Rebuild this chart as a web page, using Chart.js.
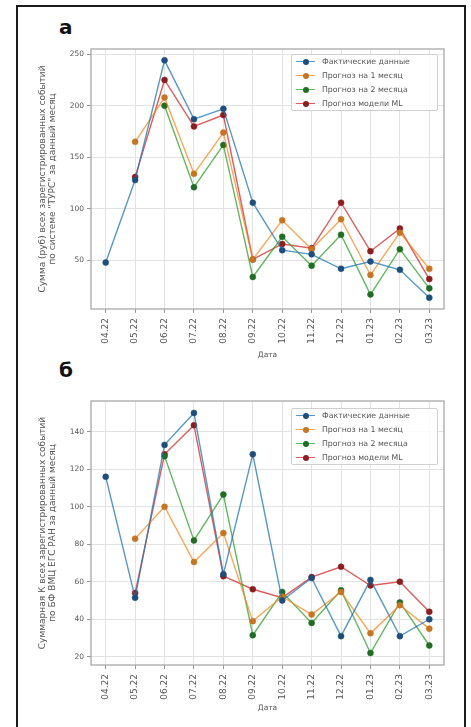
<!DOCTYPE html>
<html>
<head>
<meta charset="utf-8">
<script src="https://cdn.jsdelivr.net/npm/chart.js@4"></script>
<style>
  body { margin: 0; background: #fff; font-family: "DejaVu Sans", sans-serif; }
  #wrap { position: relative; width: 471px; height: 727px; overflow: hidden; background: #fff; }
  #frame { position: absolute; left: 16px; top: 5px; width: 446px; height: 740px; border: 2px solid #1a1a1a; }
  canvas { position: absolute; left: 0; }
  .letter { position: absolute; left: 59px; font: bold 20px "DejaVu Sans", sans-serif; color: #111; }
  .legend { position: absolute; left: 291px; width: 147px; height: 57px; border: 1px solid #d0d0d0;
            border-radius: 2px; background: rgba(255,255,255,0.85); box-sizing: border-box; }
  .row { position: absolute; left: 0; height: 14px; font-size: 7.8px; color: #555; line-height: 14px; white-space: nowrap; }
  .sym { position: absolute; left: 4px; top: 6px; width: 19px; height: 1.5px; }
  .dot { position: absolute; left: 10.5px; top: 4px; width: 6px; height: 6px; border-radius: 50%; }
  .txt { position: absolute; left: 30px; }
</style>
</head>
<body>
<div id="wrap">
  <div id="frame"></div>
  <div class="letter" style="top:15px">а</div>
  <div class="letter" style="top:358px">б</div>
  <canvas id="chartA" width="471" height="362" style="top:0"></canvas>
  <canvas id="chartB" width="471" height="367" style="top:360px"></canvas>
  <div class="legend" id="legA" style="top:54px"></div>
  <div class="legend" id="legB" style="top:408px"></div>
</div>
<script>
const meses = ['04.22', '05.22', '06.22', '07.22', '08.22', '09.22', '10.22', '11.22', '12.22', '01.23', '02.23', '03.23'];
const nombres = ['Фактические данные', 'Прогноз на 1 месяц', 'Прогноз на 2 месяца', 'Прогноз модели ML'];

// panel а
const realA  = [48, 128, 244, 187, 197, 106, 60, 56, 42, 49, 41, 14];
const prog1A = [null, 165, 208, 134, 174, 51, 89, 61, 90, 36, 77, 42];
const prog2A = [null, null, 200, 121, 162, 34, 73, 45, 75, 17, 61, 23];
const mlA    = [null, 131, 225, 180, 191, 51, 66, 62, 106, 59, 81, 32];
const ticksA = [50, 100, 150, 200, 250];

// panel б
const realB  = [116, 51.5, 133, 150, 64, 128, 50, 62, 31, 61, 31, 40];
const prog1B = [null, 83, 100, 70.5, 86, 39, 52, 42.5, 54.5, 32.5, 47.5, 35];
const prog2B = [null, null, 127, 82, 106.5, 31.5, 54.5, 38, 55.5, 22, 49, 26];
const mlB    = [null, 54, 128, 143.5, 63, 56, 51.5, 62.5, 68, 58, 60, 44];
const ticksB = [20, 40, 60, 80, 100, 120, 140];

const lineas  = ['rgba(31,119,180,0.75)', 'rgba(255,127,14,0.7)', 'rgba(44,160,44,0.75)', 'rgba(214,39,40,0.75)'];
const puntos  = ['#1c4f7e', '#c9741f', '#1f6e22', '#8f1d1f'];

// marco gris alrededor del area del grafico
const marco = {
  id: 'marco',
  afterDraw(chart) {
    const a = chart.chartArea, ctx = chart.ctx;
    ctx.save();
    ctx.strokeStyle = '#a8a8a8';
    ctx.lineWidth = 1.3;
    ctx.strokeRect(a.left, a.top, a.right - a.left, a.bottom - a.top);
    ctx.restore();
  }
};

function crearGrafico(id, series, ticks, yMin, yMax, tituloY, pad, altoX) {
  new Chart(document.getElementById(id), {
    type: 'line',
    data: {
      labels: meses,
      datasets: series.map((s, i) => ({
        label: nombres[i],
        data: s,
        borderColor: lineas[i],
        backgroundColor: puntos[i],
        pointBackgroundColor: puntos[i],
        pointBorderColor: puntos[i],
        borderWidth: 1.4,
        pointBorderWidth: 0.5,
        pointRadius: 3,
        tension: 0,
        spanGaps: false
      }))
    },
    options: {
      responsive: false,
      animation: false,
      devicePixelRatio: 1,
      layout: { padding: pad },
      plugins: { legend: { display: false }, tooltip: { enabled: false } },
      scales: {
        x: {
          offset: true,
          grid: { color: '#e2e2e2', lineWidth: 1, tickLength: 4, tickColor: '#999' },
          border: { display: false },
          ticks: { minRotation: 90, maxRotation: 90, autoSkip: false, color: '#555',
                   font: { family: 'DejaVu Sans', size: 9 }, padding: 5 },
          title: { display: true, text: 'Дата', color: '#555',
                   font: { family: 'DejaVu Sans', size: 7.5 }, padding: { top: 2, bottom: 2 } },
          afterFit: s => { s.height = altoX; }
        },
        y: {
          min: yMin,
          max: yMax,
          grid: { color: '#e2e2e2', lineWidth: 1, tickLength: 4, tickColor: '#999' },
          border: { display: false },
          ticks: { color: '#555', font: { family: 'DejaVu Sans', size: 7.5 }, padding: 3 },
          afterBuildTicks: s => { s.ticks = ticks.map(v => ({ value: v })); },
          title: { display: true, text: tituloY, color: '#555',
                   font: { family: 'DejaVu Sans', size: 9, lineHeight: 1.1 }, padding: 0 },
          afterFit: s => { s.width = 53; }
        }
      }
    },
    plugins: [marco]
  });
}

crearGrafico('chartA', [realA, prog1A, prog2A, mlA], ticksA, 3, 255,
  ['Сумма (руб) всех зарегистрированных событий', 'по системе "ТУРС" за данный месяц'],
  { left: 38, right: 27, top: 49, bottom: 0 }, 53);

crearGrafico('chartB', [realB, prog1B, prog2B, mlB], ticksB, 15.6, 156.4,
  ['Суммарная К всех зарегистрированных событий', 'по БФ ВМЦ ЕГС РАН за данный месяц'],
  { left: 38, right: 27, top: 41, bottom: 12 }, 50);

// leyendas dentro del area
function llenarLeyenda(id) {
  const box = document.getElementById(id);
  nombres.forEach((n, i) => {
    const r = document.createElement('div');
    r.className = 'row';
    r.style.top = (i * 14 - 0.5) + 'px';
    r.style.width = '144px';
    r.innerHTML = `<span class="sym" style="background:${lineas[i]}"></span>` +
                  `<span class="dot" style="background:${puntos[i]}"></span>` +
                  `<span class="txt">${n}</span>`;
    box.appendChild(r);
  });
}
llenarLeyenda('legA');
llenarLeyenda('legB');
</script>
</body>
</html>
